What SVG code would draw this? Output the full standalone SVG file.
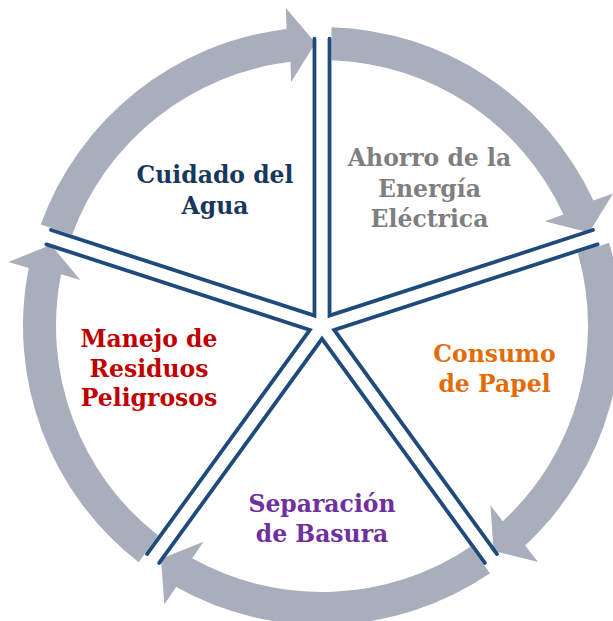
<svg xmlns="http://www.w3.org/2000/svg" xmlns:xlink="http://www.w3.org/1999/xlink" width="613" height="621" viewBox="0 0 613 621">
  <style>
    .arrow { fill: #A9AEBC; stroke: none; }
    .edge { fill: none; stroke: #1F4A7C; stroke-width: 3.8; stroke-linejoin: miter; stroke-linecap: round; }
    .lbl { font-family: "DejaVu Serif", "Liberation Serif", serif; font-weight: bold; font-size: 23.5px; text-anchor: middle; }
  </style>
  <defs>
    <path id="arc-arrow" d="M 331.50 27.15 A 299 299 0 0 1 593.43 200.58 L 613.19 193.41 L 589.07 232.40 L 544.61 221.19 L 563.47 214.43 A 266 266 0 0 0 331.50 60.17 Z"/>
    <path id="wedge-edges" d="M 592.96 230.04 L 329.52 315.64 L 329.52 38.64"/>
  </defs>
  <rect x="0" y="0" width="613" height="621" fill="#FFFFFF"/>
  <g id="connectors">
    <use xlink:href="#arc-arrow" href="#arc-arrow" class="arrow"/>
    <use xlink:href="#arc-arrow" href="#arc-arrow" class="arrow" transform="rotate(72 322 326)"/>
    <use xlink:href="#arc-arrow" href="#arc-arrow" class="arrow" transform="rotate(144 322 326)"/>
    <use xlink:href="#arc-arrow" href="#arc-arrow" class="arrow" transform="rotate(216 322 326)"/>
    <use xlink:href="#arc-arrow" href="#arc-arrow" class="arrow" transform="rotate(288 322 326)"/>
  </g>
  <g id="node-ahorro">
    <use xlink:href="#wedge-edges" href="#wedge-edges" class="edge"/>
    <text class="lbl" fill="#7F7F7F"><tspan x="429.5" y="166">Ahorro de la</tspan><tspan x="429.5" y="197">Energía</tspan><tspan x="429.5" y="227">Eléctrica</tspan></text>
  </g>
  <g id="node-consumo">
    <use xlink:href="#wedge-edges" href="#wedge-edges" class="edge" transform="rotate(72 322 326)"/>
    <text class="lbl" fill="#E36C09"><tspan x="494.5" y="362">Consumo</tspan><tspan x="494.5" y="392">de Papel</tspan></text>
  </g>
  <g id="node-separacion">
    <use xlink:href="#wedge-edges" href="#wedge-edges" class="edge" transform="rotate(144 322 326)"/>
    <text class="lbl" fill="#7030A0"><tspan x="322" y="512">Separación</tspan><tspan x="322" y="542">de Basura</tspan></text>
  </g>
  <g id="node-manejo">
    <use xlink:href="#wedge-edges" href="#wedge-edges" class="edge" transform="rotate(216 322 326)"/>
    <text class="lbl" fill="#C00000"><tspan x="149" y="347">Manejo de</tspan><tspan x="149" y="377">Residuos</tspan><tspan x="149" y="406">Peligrosos</tspan></text>
  </g>
  <g id="node-cuidado">
    <use xlink:href="#wedge-edges" href="#wedge-edges" class="edge" transform="rotate(288 322 326)"/>
    <text class="lbl" fill="#17375E"><tspan x="215" y="183">Cuidado del</tspan><tspan x="215" y="214">Agua</tspan></text>
  </g>
</svg>
